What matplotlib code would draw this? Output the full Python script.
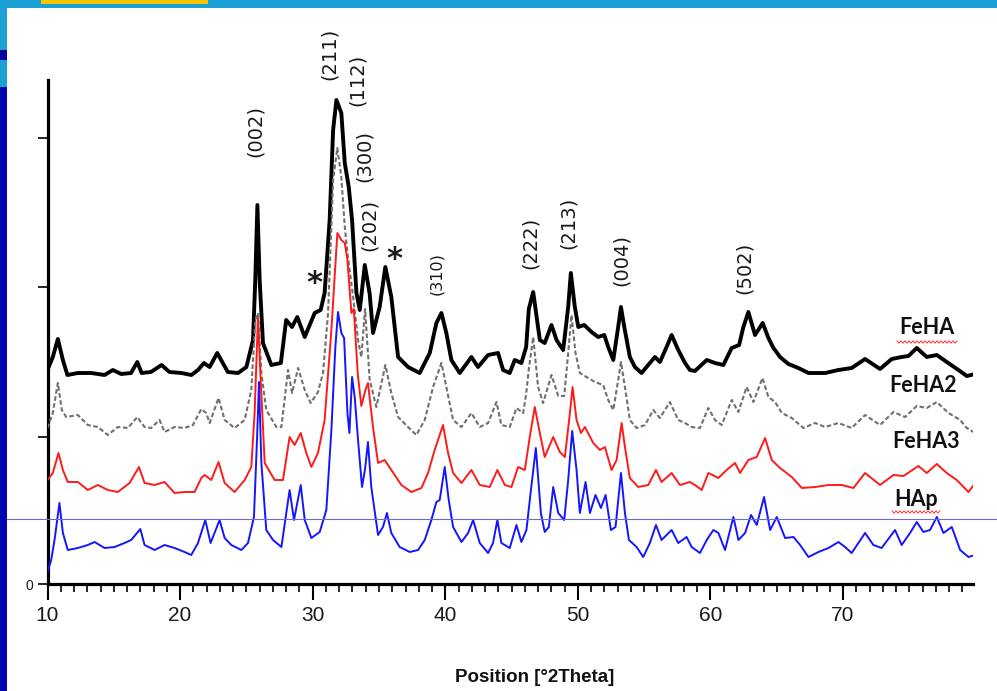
import matplotlib
matplotlib.use('Agg')
import matplotlib.pyplot as plt
from matplotlib.patches import Rectangle
from matplotlib.lines import Line2D
from matplotlib.ticker import MultipleLocator, FixedLocator

# XRD patterns: 2theta (deg) and intensity (a.u., stacked)
feha_tt = [10.0, 10.4, 10.78, 11.16, 11.5, 12.29, 13.3, 14.3, 14.93, 15.56,
           16.3, 16.77, 17.1, 17.8, 18.6, 19.2, 20.1, 20.85, 21.35, 21.8,
           22.23, 22.8, 23.6, 24.37, 25.0, 25.5, 25.67, 25.83, 26.0, 26.25,
           26.88, 27.6, 28.0, 28.44, 28.84, 29.4, 30.15, 30.6, 30.9, 31.28,
           31.54, 31.79, 32.16, 32.42, 32.72, 32.97, 33.3, 33.55, 33.93, 34.3,
           34.55, 35.05, 35.48, 35.93, 36.44, 37.19, 38.07, 38.83, 39.33, 39.71,
           40.08, 40.46, 41.09, 41.97, 42.47, 43.23, 43.98, 44.36, 44.86, 45.24,
           45.74, 46.1, 46.3, 46.63, 47.13, 47.5, 48.01, 48.39, 48.89, 49.27,
           49.47, 49.77, 50.03, 50.48, 51.03, 51.53, 51.99, 52.29, 52.67, 53.04,
           53.25, 53.5, 53.92, 54.3, 54.8, 55.43, 55.81, 56.19, 56.69, 57.07,
           57.57, 58.08, 58.45, 58.83, 59.72, 60.34, 60.97, 61.6, 62.16, 62.48,
           62.86, 63.36, 63.94, 64.37, 64.75, 65.25, 65.88, 66.63, 67.39, 68.65,
           69.65, 70.65, 71.66, 72.79, 73.67, 74.42, 74.93, 75.56, 76.31, 77.07,
           77.82, 78.7, 79.33, 79.96]
feha_i = [214, 227, 245, 224, 209, 211, 211, 209, 214, 210,
          211, 222, 211, 212, 219, 212, 211, 209, 214, 221,
          217, 231, 212, 211, 217, 244, 304, 379, 304, 241,
          219, 221, 264, 257, 267, 247, 271, 274, 291, 364,
          454, 484, 471, 421, 397, 364, 291, 274, 319, 290,
          251, 277, 317, 287, 227, 217, 211, 231, 261, 271,
          251, 224, 211, 227, 217, 229, 231, 214, 211, 224,
          221, 237, 275, 292, 244, 241, 259, 244, 234, 277,
          311, 277, 257, 259, 252, 247, 249, 237, 224, 257,
          277, 257, 227, 217, 211, 221, 227, 222, 237, 249,
          234, 221, 214, 213, 224, 221, 219, 236, 239, 257,
          272, 249, 261, 246, 236, 227, 220, 216, 211, 211,
          214, 216, 225, 215, 225, 227, 228, 236, 227, 229,
          222, 214, 208, 210]

feha2_tt = [10.0, 10.4, 10.78, 11.08, 11.41, 12.29, 13.04, 13.8, 14.55, 15.3,
            16.06, 16.77, 17.32, 17.82, 18.45, 18.83, 19.58, 20.34, 20.97, 21.6,
            21.97, 22.23, 22.9, 23.36, 24.11, 24.87, 25.37, 25.67, 25.87, 26.13,
            26.5, 27.26, 27.64, 28.14, 28.44, 28.9, 29.4, 29.85, 30.4, 30.78,
            31.16, 31.54, 31.86, 32.16, 32.42, 32.62, 33.05, 33.42, 33.67, 33.95,
            34.3, 34.8, 35.48, 35.93, 36.44, 37.19, 37.82, 38.45, 39.08, 39.71,
            40.08, 40.59, 41.22, 41.97, 42.6, 43.23, 43.86, 44.23, 44.86, 45.37,
            45.87, 46.1, 46.3, 46.63, 47.0, 47.38, 48.01, 48.52, 48.97, 49.27,
            49.52, 49.82, 50.15, 50.65, 51.28, 51.91, 52.29, 52.67, 53.04, 53.25,
            53.55, 53.92, 54.43, 55.06, 55.69, 56.19, 56.94, 57.57, 58.08, 58.58,
            59.21, 59.84, 60.34, 60.85, 61.6, 62.1, 62.73, 63.24, 63.92, 64.37,
            64.87, 65.38, 66.13, 67.01, 67.89, 68.65, 69.65, 70.65, 71.66, 72.79,
            73.8, 74.68, 75.56, 76.31, 77.07, 77.95, 78.83, 79.33, 79.83]
feha2_i = [156, 171, 201, 174, 167, 169, 159, 157, 149, 157,
           156, 167, 157, 156, 164, 152, 157, 156, 159, 175,
           171, 161, 186, 164, 156, 164, 194, 264, 271, 211,
           174, 157, 157, 214, 191, 216, 194, 181, 192, 211,
           271, 404, 436, 407, 357, 331, 287, 244, 227, 275,
           204, 177, 219, 191, 167, 157, 149, 164, 197, 221,
           197, 164, 157, 171, 157, 161, 182, 159, 157, 176,
           171, 190, 215, 247, 197, 181, 209, 188, 188, 231,
           269, 231, 211, 207, 202, 199, 184, 174, 204, 222,
           197, 164, 156, 159, 174, 166, 182, 164, 161, 157,
           156, 176, 164, 159, 184, 172, 197, 182, 206, 187,
           182, 171, 166, 156, 161, 157, 161, 156, 169, 159,
           172, 167, 178, 176, 182, 171, 164, 156, 152]

feha3_tt = [10.0, 10.4, 10.83, 11.16, 11.53, 12.29, 13.04, 13.8, 14.55, 15.3,
            16.19, 16.9, 17.32, 18.08, 18.83, 19.58, 20.34, 21.09, 21.6, 21.85,
            22.35, 22.9, 23.36, 24.11, 24.87, 25.37, 25.62, 25.87, 26.08, 26.38,
            27.13, 27.76, 28.26, 28.64, 29.1, 29.52, 29.9, 30.4, 30.9, 31.41,
            31.86, 32.16, 32.42, 32.62, 32.92, 33.1, 33.4, 33.67, 34.0, 34.17,
            34.55, 34.93, 35.43, 35.93, 36.69, 37.44, 38.2, 38.7, 39.2, 39.83,
            40.21, 40.59, 41.22, 41.97, 42.6, 43.35, 43.93, 44.49, 44.99, 45.49,
            46.0, 46.37, 46.75, 47.13, 47.5, 48.14, 48.64, 49.02, 49.4, 49.6,
            49.9, 50.23, 50.53, 51.16, 51.66, 52.04, 52.54, 52.92, 53.3, 53.55,
            53.92, 54.55, 55.31, 55.89, 56.31, 57.07, 57.7, 58.45, 58.83, 59.34,
            59.84, 60.6, 61.22, 61.85, 62.23, 62.86, 63.49, 64.12, 64.62, 65.25,
            66.13, 66.89, 67.89, 68.9, 69.9, 70.78, 71.66, 72.79, 73.8, 74.55,
            75.68, 76.31, 77.07, 77.82, 78.57, 79.46, 79.96]
feha3_i = [104, 111, 131, 114, 102, 102, 94, 99, 94, 92,
           101, 117, 101, 99, 102, 91, 92, 92, 106, 109,
           104, 122, 101, 92, 104, 117, 171, 266, 204, 121,
           104, 104, 147, 139, 151, 131, 117, 131, 164, 254,
           351, 344, 341, 324, 271, 275, 210, 178, 195, 201,
           157, 121, 124, 114, 99, 92, 96, 111, 134, 159,
           131, 111, 101, 114, 99, 97, 114, 99, 97, 117,
           114, 147, 177, 151, 127, 147, 132, 127, 171, 197,
           164, 151, 157, 141, 134, 137, 114, 124, 161, 137,
           106, 97, 99, 114, 102, 111, 99, 102, 99, 94,
           111, 106, 114, 121, 111, 124, 127, 146, 124, 116,
           107, 96, 97, 99, 99, 96, 111, 99, 109, 108,
           118, 111, 120, 111, 104, 92, 101]

hap_tt = [10.0, 10.28, 10.53, 10.9, 11.16, 11.53, 12.29, 13.04, 13.55, 14.3,
          15.06, 15.81, 16.31, 17.0, 17.32, 18.08, 18.83, 19.58, 20.34, 20.84,
          21.35, 21.9, 22.3, 22.98, 23.36, 23.86, 24.62, 25.12, 25.57, 25.8,
          25.95, 26.13, 26.5, 27.01, 27.64, 28.01, 28.26, 28.59, 29.1, 29.4,
          29.9, 30.53, 31.03, 31.41, 31.71, 31.91, 32.16, 32.37, 32.62, 32.77,
          32.97, 33.17, 33.42, 33.72, 33.95, 34.17, 34.42, 34.93, 35.3, 35.6,
          35.93, 36.56, 37.32, 37.95, 38.45, 38.95, 39.33, 39.58, 39.96, 40.26,
          40.59, 41.22, 41.72, 42.1, 42.6, 43.23, 43.6, 43.93, 44.23, 44.86,
          45.37, 45.74, 46.12, 46.4, 46.83, 47.21, 47.5, 47.81, 48.14, 48.52,
          48.97, 49.27, 49.57, 49.9, 50.15, 50.58, 50.91, 51.33, 51.74, 52.09,
          52.49, 52.84, 53.25, 53.55, 53.85, 54.43, 54.93, 55.43, 55.89, 56.31,
          57.07, 57.57, 58.2, 58.58, 59.21, 59.72, 60.22, 60.6, 61.1, 61.48,
          61.73, 62.11, 62.61, 63.06, 63.49, 64.04, 64.5, 65.0, 65.63, 66.26,
          66.76, 67.39, 68.14, 68.9, 69.65, 70.15, 70.65, 71.66, 72.29, 72.91,
          73.92, 74.42, 75.05, 75.56, 76.06, 76.56, 77.07, 77.57, 78.2, 78.83,
          79.46, 79.96]
hap_i = [12, 24, 44, 81, 51, 34, 36, 39, 42, 36,
         37, 41, 44, 55, 39, 34, 39, 36, 32, 29,
         41, 64, 41, 64, 46, 39, 34, 41, 67, 144,
         202, 121, 54, 44, 37, 71, 94, 64, 99, 64,
         46, 52, 74, 154, 237, 272, 251, 246, 171, 151,
         207, 187, 144, 97, 115, 142, 97, 49, 57, 71,
         51, 37, 32, 34, 44, 64, 82, 84, 117, 84,
         57, 42, 51, 64, 41, 31, 41, 64, 41, 36,
         59, 42, 54, 87, 136, 71, 52, 57, 97, 71,
         64, 104, 153, 114, 71, 102, 71, 89, 76, 89,
         54, 57, 111, 71, 44, 37, 27, 41, 59, 44,
         54, 41, 47, 37, 31, 44, 54, 51, 34, 54,
         67, 44, 51, 69, 59, 87, 54, 67, 46, 47,
         39, 27, 32, 36, 42, 37, 31, 51, 39, 36,
         54, 39, 51, 62, 52, 54, 67, 51, 57, 34,
         27, 29]

series_names = ['FeHA', 'FeHA2', 'FeHA3', 'HAp']
series_colors = ['black', '#707070', '#ff1a1a', '#1515ff']

# Miller indices and the two impurity marks
hkl_labels = ['(002)', '(211)', '(112)', '(300)', '(202)', '(310)',
              '(222)', '(213)', '(004)', '(502)']
hkl_tt = [25.7, 31.28, 33.4, 33.92, 34.3, 39.36, 46.45, 49.25, 53.25, 62.53]
hkl_i = [453, 530, 504, 428, 359, 310, 341, 361, 324, 316]
star_tt = [30.15, 36.19]
star_i = [300, 324]

W, H = 997, 691
fig = plt.figure(figsize=(W / 100, H / 100), dpi=100)


def fbox(x, y, w, h):
    # pixel box (top-left origin) -> figure fractions
    return (x / W, 1 - (y + h) / H), w / W, h / H


# slide decoration around the chart
for (x, y, w, h), c in [((0, 0, W, 8), '#1aa0d4'), ((41, 0, 167, 4), '#f8c400'),
                        ((0, 8, 7, 42), '#1aa0d4'), ((0, 50, 7, 10), '#00009c'),
                        ((0, 60, 7, 27), '#1aa0d4'), ((0, 87, 7, H - 87), '#0202ae')]:
    xy, ww, hh = fbox(x, y, w, h)
    fig.add_artist(Rectangle(xy, ww, hh, transform=fig.transFigure,
                             facecolor=c, edgecolor='none', zorder=0))

ax = fig.add_axes([47.5 / W, (H - 584) / H, (973 - 47.5) / W, (584 - 80) / H])
ax.patch.set_alpha(0)

all_tt = [feha_tt, feha2_tt, feha3_tt, hap_tt]
all_i = [feha_i, feha2_i, feha3_i, hap_i]
widths = [2.8, 1.5, 1.4, 1.4]
for k in range(4):
    ls = (0, (2.2, 1.2)) if k == 1 else '-'
    ax.plot(all_tt[k], all_i[k], color=series_colors[k], lw=widths[k],
            ls=ls, zorder=2 + k, solid_joinstyle='round')

ax.set_xlim(10, 79.8)
ax.set_ylim(0, 504)

for s in ['top', 'right']:
    ax.spines[s].set_visible(False)
for s in ['left', 'bottom']:
    ax.spines[s].set_linewidth(2.3)
    ax.spines[s].set_color('black')

ax.xaxis.set_major_locator(MultipleLocator(10))
ax.xaxis.set_minor_locator(MultipleLocator(1))
ax.tick_params(axis='x', which='major', direction='out', length=11.5, width=1.5,
               pad=4, labelsize=15, labelcolor='#1a1a1a')
ax.tick_params(axis='x', which='minor', direction='out', length=5.5, width=1.2)
ax.set_xticks(range(10, 80, 10))
ax.set_xticklabels([str(v) for v in range(10, 80, 10)], family='Liberation Sans')

ax.yaxis.set_major_locator(FixedLocator([0, 147, 297, 446]))
ax.set_yticklabels(['0', '', '', ''], family='Liberation Sans')
ax.tick_params(axis='y', direction='out', length=7.5, width=1.2, pad=3,
               labelsize=10, labelcolor='#1a1a1a')

for lab, x, y in zip(hkl_labels, hkl_tt, hkl_i):
    fs = 11.5 if lab == '(310)' else 14
    ax.text(x, y, lab, rotation=90, ha='center', va='center', fontsize=fs,
            color='#1a1a1a', clip_on=False)
for x, y in zip(star_tt, star_i):
    ax.text(x, y, '*', ha='center', va='center', fontsize=22,
            fontweight='bold', color='#1a1a1a')

name_tt = [76.34, 76.04, 76.26, 75.5]
name_i = [256, 198, 142, 84]
for name, x, y in zip(series_names, name_tt, name_i):
    ax.text(x, y, name, ha='center', va='center', fontsize=15.5,
            fontweight='bold', family='Lato', color='#111111', zorder=10)

# red spell-check squiggles under FeHA and HAp
for x0, x1, yy in [(897, 958, 342), (892, 940, 512)]:
    xs = list(range(x0, x1 + 1, 2))
    ys = [yy + (1.2 if j % 2 else -1.2) for j in range(len(xs))]
    fig.add_artist(Line2D([v / W for v in xs], [1 - v / H for v in ys],
                          transform=fig.transFigure, color='#ff3030', lw=0.7, zorder=20))

# thin guide line running across the slide
fig.add_artist(Line2D([7 / W, 1], [1 - 519 / H, 1 - 519 / H], transform=fig.transFigure,
                      color='#6a6ad6', lw=0.8, zorder=20))

fig.text(535 / W, 1 - 678 / H, 'Position [°2Theta]', ha='center', va='center',
         fontsize=13.5, fontweight='bold', family='Liberation Sans', color='#111111')

plt.savefig('out.png', dpi=100)
